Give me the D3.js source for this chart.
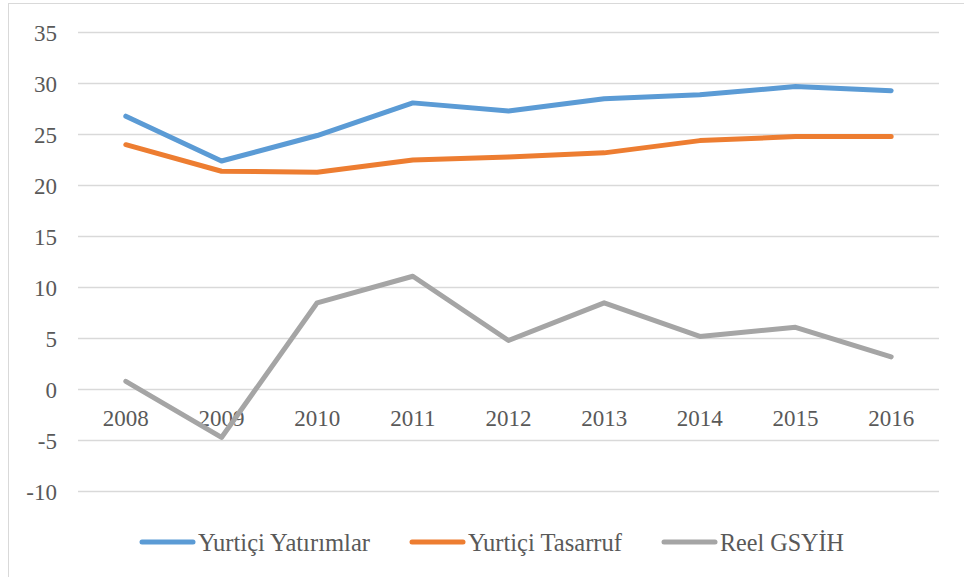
<!DOCTYPE html>
<html>
<head>
<meta charset="utf-8">
<script src="https://cdn.jsdelivr.net/npm/d3@7"></script>
<style>
  body { margin: 0; background: #fff; }
</style>
</head>
<body>
<div id="chart"></div>
<script>
var years = ["2008", "2009", "2010", "2011", "2012", "2013", "2014", "2015", "2016"];
var yatirim = [26.8, 22.4, 24.9, 28.1, 27.3, 28.5, 28.9, 29.7, 29.3]; // Yurtiçi Yatırımlar
var tasarruf = [24.0, 21.4, 21.3, 22.5, 22.8, 23.2, 24.4, 24.8, 24.8]; // Yurtiçi Tasarruf
var gsyih = [0.8, -4.7, 8.5, 11.1, 4.8, 8.5, 5.2, 6.1, 3.2]; // Reel GSYİH
var yTicks = [-10, -5, 0, 5, 10, 15, 20, 25, 30, 35];
var seriesNames = ["Yurtiçi Yatırımlar", "Yurtiçi Tasarruf", "Reel GSYİH"];
var seriesColors = ["#5B9BD5", "#ED7D31", "#A5A5A5"];

var svgWidth = 964, svgHeight = 577;
var margin = { top: 32.5, right: 25, bottom: 85.5, left: 78 };
var width = svgWidth - margin.left - margin.right;
var height = svgHeight - margin.top - margin.bottom;
var serif = "'Liberation Serif', 'Times New Roman', Times, serif";

var svg = d3.select("#chart").append("svg")
    .attr("width", svgWidth)
    .attr("height", svgHeight)
    .style("font-family", serif);

// outer chart border
svg.append("rect")
    .attr("x", 8.5).attr("y", 3.5)
    .attr("width", 970).attr("height", 600)
    .attr("fill", "none")
    .attr("stroke", "#d9d9d9")
    .attr("stroke-width", 1);

var g = svg.append("g")
    .attr("transform", `translate(${margin.left}, ${margin.top})`);

var x = d3.scaleBand().domain(years).range([0, width]);
var y = d3.scaleLinear().domain([-10, 35]).range([height, 0]);

// gridlines
g.selectAll(".grid").data(yTicks).enter().append("line")
    .attr("x1", 0).attr("x2", width)
    .attr("y1", d => y(d)).attr("y2", d => y(d))
    .attr("stroke", "#d9d9d9")
    .attr("stroke-width", 1.3);

// y tick labels
g.selectAll(".ylab").data(yTicks).enter().append("text")
    .attr("x", -21).attr("y", d => y(d))
    .attr("dy", "0.35em")
    .attr("text-anchor", "end")
    .attr("fill", "#595959")
    .style("font-family", serif)
    .style("font-size", "23px")
    .text(d => d);

// x labels just under zero line
g.selectAll(".xlab").data(years).enter().append("text")
    .attr("x", d => x(d) + x.bandwidth() / 2)
    .attr("y", y(0) + 28)
    .attr("dy", "0.35em")
    .attr("text-anchor", "middle")
    .attr("fill", "#595959")
    .style("font-family", serif)
    .style("font-size", "23px")
    .text(d => d);

var line = d3.line()
    .x((d, i) => x(years[i]) + x.bandwidth() / 2)
    .y(d => y(d));

[yatirim, tasarruf, gsyih].forEach(function(vals, k) {
    g.append("path")
        .datum(vals)
        .attr("d", line)
        .attr("fill", "none")
        .attr("stroke", seriesColors[k])
        .attr("stroke-width", 5)
        .attr("stroke-linecap", "round")
        .attr("stroke-linejoin", "round");
});

// legend
var legendX = [140, 410, 662];
var legendLen = [172, 154, 124];
var legend = svg.append("g");
seriesNames.forEach(function(name, k) {
    legend.append("line")
        .attr("x1", legendX[k] + 2).attr("x2", legendX[k] + 53)
        .attr("y1", 542).attr("y2", 542)
        .attr("stroke", seriesColors[k])
        .attr("stroke-width", 5)
        .attr("stroke-linecap", "round");
    legend.append("text")
        .attr("x", legendX[k] + 58).attr("y", 542)
        .attr("dy", "0.35em")
        .attr("fill", "#595959")
        .attr("textLength", legendLen[k])
        .attr("lengthAdjust", "spacingAndGlyphs")
        .style("font-family", serif)
        .style("font-size", "25px")
        .text(name);
});
</script>
</body>
</html>
